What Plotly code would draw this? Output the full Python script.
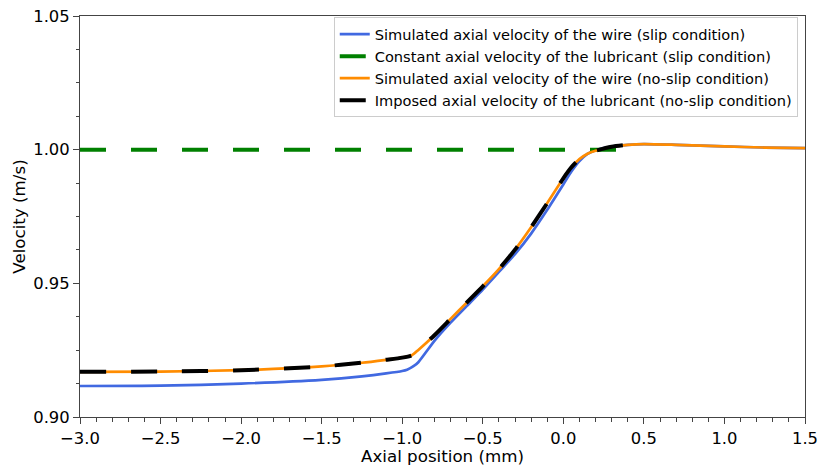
import plotly.graph_objects as go

# ---- data ----
wire_slip_x = [-3.0, -2.5, -2.0, -1.5, -1.25, -1.1, -1.0, -0.97, -0.93, -0.9, -0.8, -0.7, -0.6, -0.5,
               -0.4, -0.3, -0.2, -0.1, 0.0, 0.05, 0.1, 0.15, 0.2, 0.3, 0.4, 0.5, 0.7, 1.0, 1.25, 1.5]
wire_slip_y = [0.9116, 0.9117, 0.9125, 0.9139, 0.9152, 0.9163, 0.9172, 0.9177, 0.9190, 0.9205, 0.9285,
               0.9353, 0.9415, 0.9477, 0.9543, 0.9609, 0.9686, 0.9775, 0.9870, 0.9918, 0.9957, 0.9984,
               0.9998, 1.0012, 1.0018, 1.0021, 1.0018, 1.0012, 1.0008, 1.0006]

lub_slip_x = [-3.0, 0.4]
lub_slip_y = [1.0, 1.0]

wire_noslip_x = [-3.0, -2.5, -2.0, -1.5, -1.25, -1.1, -1.0, -0.94, -0.9, -0.8, -0.7, -0.6, -0.5,
                 -0.4, -0.3, -0.2, -0.1, 0.0, 0.05, 0.1, 0.15, 0.2, 0.3, 0.4, 0.5, 0.7, 1.0, 1.25, 1.5]
wire_noslip_y = [0.9169, 0.9170, 0.9175, 0.9189, 0.9203, 0.9214, 0.9222, 0.9231, 0.9251, 0.9306,
                 0.9367, 0.9428, 0.9489, 0.9553, 0.9626, 0.9710, 0.9800, 0.9893, 0.9934, 0.9965,
                 0.9985, 0.9996, 1.0011, 1.0018, 1.0021, 1.0018, 1.0012, 1.0008, 1.0006]

lub_noslip_x = [-3.0, -2.5, -2.0, -1.5, -1.25, -1.1, -1.0, -0.94, -0.9, -0.8, -0.7, -0.6, -0.5,
                -0.4, -0.3, -0.2, -0.1, 0.0, 0.05, 0.1, 0.15, 0.2, 0.3, 0.4, 0.5]
lub_noslip_y = [0.9169, 0.9170, 0.9175, 0.9189, 0.9203, 0.9214, 0.9222, 0.9231, 0.9251, 0.9306,
                0.9367, 0.9428, 0.9489, 0.9553, 0.9626, 0.9710, 0.9800, 0.9893, 0.9934, 0.9965,
                0.9985, 0.9996, 1.0011, 1.0018, 1.0021]

names = [
    "Simulated axial velocity of the wire (slip condition)",
    "Constant axial velocity of the lubricant (slip condition)",
    "Simulated axial velocity of the wire (no-slip condition)",
    "Imposed axial velocity of the lubricant (no-slip condition)",
]

FONT = "DejaVu Sans"

fig = go.Figure()
fig.add_trace(go.Scatter(x=wire_slip_x, y=wire_slip_y, mode="lines", name=names[0],
                         line=dict(color="#4169E1", width=2.7, shape="spline", smoothing=0.6)))
fig.add_trace(go.Scatter(x=lub_slip_x, y=lub_slip_y, mode="lines", name=names[1],
                         line=dict(color="#008000", width=4, dash="26px,25px")))
fig.add_trace(go.Scatter(x=wire_noslip_x, y=wire_noslip_y, mode="lines", name=names[2],
                         line=dict(color="#FF8C00", width=2.7, shape="spline", smoothing=0.6)))
fig.add_trace(go.Scatter(x=lub_noslip_x, y=lub_noslip_y, mode="lines", name=names[3],
                         line=dict(color="black", width=4, dash="26px,25px", shape="spline", smoothing=0.6)))

axis_common = dict(
    showgrid=False, zeroline=False, showline=True, linecolor="#444", linewidth=1, mirror=True,
    ticks="outside", ticklen=6, tickwidth=1, tickcolor="#444", automargin=False,
    ticklabeloverflow="allow",
    tickfont=dict(family=FONT, size=16.4, color="black"),
)

fig.update_xaxes(
    range=[-3.0, 1.5], dtick=0.5, tick0=-3.0, tickformat=".1f",
    minor=dict(dtick=0.1, ticks="outside", ticklen=3.5, tickcolor="#444", showgrid=False),
    title=dict(text="Axial position (mm)", font=dict(family=FONT, size=16.7, color="black"), standoff=2),
    **axis_common,
)
fig.update_yaxes(
    range=[0.90, 1.05], dtick=0.05, tick0=0.90, tickformat=".2f",
    minor=dict(dtick=0.0125, ticks="outside", ticklen=3.5, tickcolor="#444", showgrid=False),
    title=dict(text="Velocity (m/s)", font=dict(family=FONT, size=16.7, color="black"), standoff=3),
    **axis_common,
)

fig.update_layout(
    width=818, height=466,
    margin=dict(l=80, r=13, t=16, b=49),
    paper_bgcolor="white", plot_bgcolor="white",
    font=dict(family=FONT, color="black"),
    showlegend=True,
    legend=dict(
        x=0.99, xanchor="right", y=0.997, yanchor="top",
        bgcolor="rgba(255,255,255,0.8)", bordercolor="#cccccc", borderwidth=1,
        font=dict(family=FONT, size=14.6, color="black"),
        itemwidth=30,
    ),
)

fig.write_html("out.html")
